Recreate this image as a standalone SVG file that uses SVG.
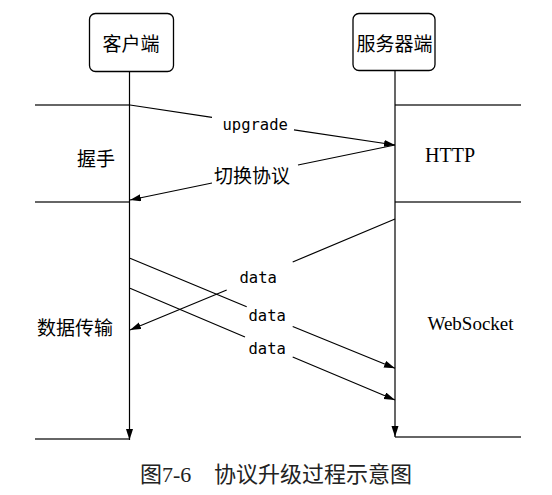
<svg xmlns="http://www.w3.org/2000/svg" width="552" height="495" viewBox="0 0 552 495">
<style>
.box{fill:#fff;stroke:#000;stroke-width:1.3}
.ln{fill:none;stroke:#000;stroke-width:1.2}
.sep{fill:none;stroke:#333;stroke-width:1.4}
.cjk{font-family:"Noto Sans CJK SC",sans-serif;font-size:19px;fill:#000}
.mono{font-family:"DejaVu Sans Mono",monospace;font-size:15.5px;fill:#000}
.ser{font-family:"Liberation Serif",serif;fill:#000}
.cap{font-family:"Liberation Serif","Noto Sans CJK SC",serif;font-size:22px;fill:#222}
</style>
<defs>
<marker id="ah" markerUnits="userSpaceOnUse" markerWidth="11" markerHeight="8" refX="11" refY="3.5" orient="auto">
<path d="M0,0 L11,3.5 L0,7 z" fill="#000"/>
</marker>
</defs>
<rect width="552" height="495" fill="#fff"/>
<g id="separators">
<line class="sep" x1="35" y1="105" x2="130" y2="105"/>
<line class="sep" x1="35" y1="202" x2="130" y2="202"/>
<line class="sep" x1="35" y1="439" x2="129" y2="439"/>
<line class="sep" x1="395" y1="105" x2="521" y2="105"/>
<line class="sep" x1="395" y1="202" x2="521" y2="202"/>
<line class="sep" x1="395" y1="437" x2="521" y2="437"/>
</g>
<g id="client">
<rect class="box" x="89.5" y="13.5" width="84" height="58" rx="6"/>
<text class="cjk" x="131" y="51" text-anchor="middle">客户端</text>
</g>
<g id="server">
<rect class="box" x="353" y="13.5" width="82" height="57" rx="6"/>
<text class="cjk" x="394.5" y="51" text-anchor="middle">服务器端</text>
</g>
<g id="phase-labels">
<text class="cjk" x="77" y="166">握手</text>
<text class="cjk" x="37" y="335">数据传输</text>
<text class="ser" x="425" y="162" font-size="20">HTTP</text>
<text class="ser" x="427.5" y="330" font-size="19">WebSocket</text>
</g>
<g id="connectors">
<line class="ln" x1="129.5" y1="72" x2="129.5" y2="440" marker-end="url(#ah)"/>
<line class="ln" x1="395" y1="70" x2="395" y2="437" marker-end="url(#ah)"/>
<path class="ln" d="M130,105 L212,117.4 M294,129.8 L395,145" marker-end="url(#ah)"/>
<path class="ln" d="M395,145 L298,165 M212,183 L130,200" marker-end="url(#ah)"/>
<path class="ln" d="M395,219 L292.7,262 M226.7,290 L130,330" marker-end="url(#ah)"/>
<path class="ln" d="M130,258.3 L246.7,306.7 M292.7,326.5 L395,368.3" marker-end="url(#ah)"/>
<path class="ln" d="M130,288.3 L245,337 M292.7,357 L395,400" marker-end="url(#ah)"/>
</g>
<g id="connector-labels">
<text class="mono" x="222.5" y="130">upgrade</text>
<text class="cjk" x="214" y="183">切换协议</text>
<text class="mono" x="239.5" y="283">data</text>
<text class="mono" x="248.5" y="321">data</text>
<text class="mono" x="248.5" y="354">data</text>
</g>
<g id="caption">
<text class="cap" y="482"><tspan x="140">图7-6</tspan><tspan x="214">协议升级过程示意图</tspan></text>
</g>
</svg>
